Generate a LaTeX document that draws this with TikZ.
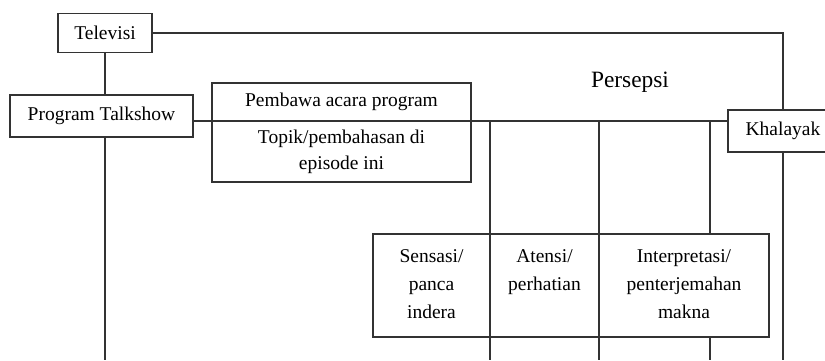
\documentclass[tikz,border=0pt]{standalone}
\usepackage{fontspec}
\setmainfont{Liberation Serif}
\usetikzlibrary{positioning}

\begin{document}
\begin{tikzpicture}[
  x = 1pt,
  y = -1pt,
  line width = 1.4pt,
  box/.style = {
    draw = black!80,
    rectangle,
    inner sep = 0pt,
    outer sep = 0pt,
    align = center,
    font = \fontsize{19.5}{26}\selectfont,
  },
  cell/.style = {
    box,
    minimum height = 103pt,
  },
  word/.style = {
    anchor = base,
    align = center,
    inner sep = 0pt,
    font = \fontsize{19.5}{28}\selectfont,
  },
  link/.style = {
    draw = black!80,
  },
]

  \useasboundingbox (0,0) rectangle (825,360);

  \node[box, minimum width=94pt, minimum height=39pt] (tv) at (105,33) {Televisi};
  \node[box, minimum width=183pt, minimum height=42pt] (talk) at (101.5,116) {Program Talkshow};

  \node[box, minimum width=259pt, minimum height=38pt] (host) at (341.5,102) {Pembawa acara program};
  \node[box, minimum width=259pt, minimum height=61pt] (topic) [below=0pt of host] {Topik/pembahasan di\\episode ini};

  \node[box, minimum width=110pt, minimum height=42pt] (aud) at (783,131) {Khalayak};
  \node[anchor=base, font=\fontsize{23.4}{28}\selectfont] (persepsi) at (630,87) {Persepsi};

  % tahap persepsi (base = baseline of the last line)
  \node[cell, minimum width=117pt] (sens) at (431.5,285.5) {};
  \node[cell, minimum width=109pt] (aten) [right=0pt of sens] {};
  \node[cell, minimum width=170pt] (intp) [right=0pt of aten] {};
  \node[word] (sensT) at ([yshift=-84pt]sens.north) {Sensasi/\\panca\\indera};
  \node[word] (atenT) at ([yshift=-56pt]aten.north) {Atensi/\\perhatian};
  \node[word] (intpT) at ([yshift=-84pt]intp.north) {Interpretasi/\\penterjemahan\\makna};

  \coordinate (floor) at (0,360);
  \coordinate (tap) at (710,121);

  \draw[link] (tv.south) -- (tv.south |- talk.north);
  \draw[link] (tv.south |- talk.south) -- (tv.south |- floor);
  \draw[link] (tv.east) -| (aud.north);
  \draw[link] (talk.east |- host.south) -- (aud.west |- host.south);
  \draw[link] (sens.east |- host.south) -- (sens.north east);
  \draw[link] (sens.south east) -- (sens.east |- floor);
  \draw[link] (aten.east |- host.south) -- (aten.north east);
  \draw[link] (aten.south east) -- (aten.east |- floor);
  \draw[link] (tap) -- (tap |- intp.north);
  \draw[link] (tap |- intp.south) -- (tap |- floor);
  \draw[link] (aud.south) -- (aud.south |- floor);
\end{tikzpicture}
\end{document}
